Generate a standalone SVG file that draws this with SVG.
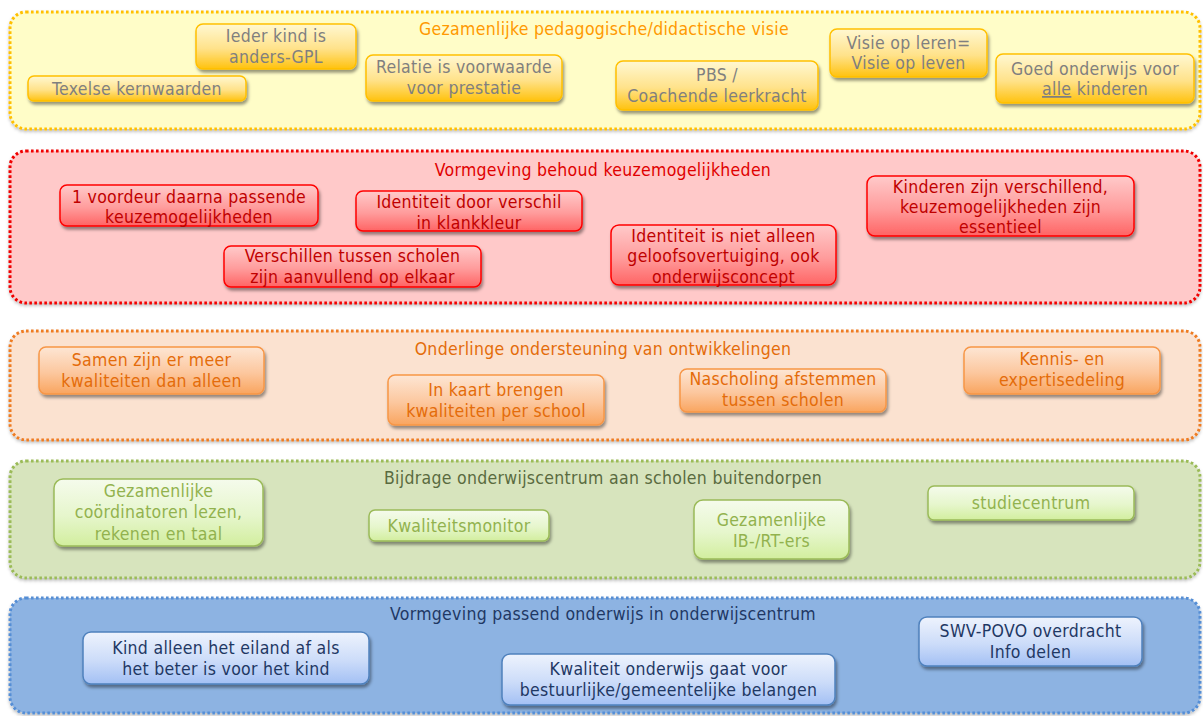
<svg xmlns="http://www.w3.org/2000/svg" width="1203" height="716" viewBox="0 0 1203 716">
<defs>
<linearGradient id="gY" x1="0" y1="0" x2="0" y2="1"><stop offset="0" stop-color="#FFF8D2"/><stop offset="0.55" stop-color="#FFE28A"/><stop offset="1" stop-color="#FFC20E"/></linearGradient>
<linearGradient id="gR" x1="0" y1="0" x2="0" y2="1"><stop offset="0" stop-color="#FFCACA"/><stop offset="0.55" stop-color="#FF9C9C"/><stop offset="1" stop-color="#FF6464"/></linearGradient>
<linearGradient id="gO" x1="0" y1="0" x2="0" y2="1"><stop offset="0" stop-color="#FDE6D4"/><stop offset="0.55" stop-color="#FCC79E"/><stop offset="1" stop-color="#F9A55F"/></linearGradient>
<linearGradient id="gG" x1="0" y1="0" x2="0" y2="1"><stop offset="0" stop-color="#F5FBEC"/><stop offset="0.55" stop-color="#E6F6CC"/><stop offset="1" stop-color="#D2EE9E"/></linearGradient>
<linearGradient id="gB" x1="0" y1="0" x2="0" y2="1"><stop offset="0" stop-color="#EEF3FD"/><stop offset="0.55" stop-color="#CCDCF9"/><stop offset="1" stop-color="#A3C0F4"/></linearGradient>
<filter id="sh" x="-10%" y="-20%" width="125%" height="150%"><feDropShadow dx="1.5" dy="3" stdDeviation="1.8" flood-color="#000" flood-opacity="0.4"/></filter>
<filter id="psh" x="-5%" y="-10%" width="110%" height="130%"><feDropShadow dx="0" dy="2" stdDeviation="1.5" flood-color="#000" flood-opacity="0.25"/></filter>
</defs>
<style>
text{font-family:'DejaVu Sans Condensed','DejaVu Sans',sans-serif;font-stretch:condensed;font-size:17.5px;letter-spacing:0.3px;text-anchor:middle}
.panel{stroke-width:3;stroke-dasharray:2.6 2.4;filter:url(#psh)}
.node rect{stroke-width:1.5;filter:url(#sh)}
.y rect{fill:url(#gY);stroke:#FFC000}
.y text{fill:#7F7F7F}
.r rect{fill:url(#gR);stroke:#FF0000}
.r text{fill:#C00000}
.o rect{fill:url(#gO);stroke:#F79646}
.o text{fill:#E46C0A}
.g rect{fill:url(#gG);stroke:#9BBB59}
.g text{fill:#92B24E}
.b rect{fill:url(#gB);stroke:#4F81BD}
.b text{fill:#1F3864}
</style>
<rect width="1203" height="716" fill="#FFFFFF"/>
<g id="panels">
<g id="panel-visie"><rect class="panel" x="10" y="12" width="1190" height="117" rx="16" fill="#FFFDC8" stroke="#FFC000"/><text x="604" y="35" fill="#FF9900">Gezamenlijke pedagogische/didactische visie</text></g>
<g id="panel-keuze"><rect class="panel" x="10" y="151" width="1190" height="152" rx="16" fill="#FFC9C9" stroke="#F00000"/><text x="603" y="176" fill="#E00000">Vormgeving behoud keuzemogelijkheden</text></g>
<g id="panel-ondersteuning"><rect class="panel" x="10" y="331" width="1190" height="109" rx="16" fill="#FBE2D0" stroke="#EE7B22"/><text x="603" y="355" fill="#E46C0A">Onderlinge ondersteuning van ontwikkelingen</text></g>
<g id="panel-bijdrage"><rect class="panel" x="10" y="461" width="1190" height="117" rx="16" fill="#D7E4BD" stroke="#9BBB59"/><text x="603" y="484" fill="#5A6B40">Bijdrage onderwijscentrum aan scholen buitendorpen</text></g>
<g id="panel-passend"><rect class="panel" x="10" y="598" width="1190" height="115" rx="16" fill="#8DB3E2" stroke="#558ED5"/><text x="603" y="620" fill="#1F3864">Vormgeving passend onderwijs in onderwijscentrum</text></g>
</g>
<g id="connectors"/>
<g id="nodes">
<g id="n-texelse" class="node y"><rect x="28" y="76" width="218" height="25" rx="6"/><text x="137" y="95">Texelse kernwaarden</text></g>
<g id="n-ieder" class="node y"><rect x="196" y="24" width="160" height="45" rx="7"/><text x="276" y="42">Ieder kind is</text><text x="276" y="63">anders-GPL</text></g>
<g id="n-relatie" class="node y"><rect x="366" y="55" width="196" height="46" rx="7"/><text x="464" y="73">Relatie is voorwaarde</text><text x="464" y="94">voor prestatie</text></g>
<g id="n-pbs" class="node y"><rect x="616" y="61" width="202" height="49" rx="7"/><text x="717" y="81">PBS /</text><text x="717" y="102">Coachende leerkracht</text></g>
<g id="n-visie" class="node y"><rect x="830" y="29" width="157" height="48" rx="7"/><text x="908.5" y="49">Visie op leren=</text><text x="908.5" y="69">Visie op leven</text></g>
<g id="n-goed" class="node y"><rect x="996" y="54" width="198" height="49" rx="7"/><text x="1095" y="75">Goed onderwijs voor</text><text x="1095" y="95"><tspan text-decoration="underline">alle</tspan> kinderen</text></g>

<g id="n-voordeur" class="node r"><rect x="60" y="185" width="258" height="41" rx="7"/><text x="189" y="203">1 voordeur daarna passende</text><text x="189" y="223">keuzemogelijkheden</text></g>
<g id="n-identiteit1" class="node r"><rect x="356" y="191" width="226" height="40" rx="7"/><text x="469" y="208">Identiteit door verschil</text><text x="469" y="229">in klankkleur</text></g>
<g id="n-verschillen" class="node r"><rect x="224" y="246" width="257" height="41" rx="7"/><text x="352.5" y="262">Verschillen tussen scholen</text><text x="352.5" y="283">zijn aanvullend op elkaar</text></g>
<g id="n-identiteit2" class="node r"><rect x="611" y="225" width="225" height="60" rx="8"/><text x="723.5" y="242">Identiteit is niet alleen</text><text x="723.5" y="262">geloofsovertuiging, ook</text><text x="723.5" y="283">onderwijsconcept</text></g>
<g id="n-kinderen" class="node r"><rect x="867" y="176" width="267" height="60" rx="8"/><text x="1000.5" y="193">Kinderen zijn verschillend,</text><text x="1000.5" y="213">keuzemogelijkheden zijn</text><text x="1000.5" y="233">essentieel</text></g>

<g id="n-samen" class="node o"><rect x="39" y="347" width="225" height="47" rx="7"/><text x="151.5" y="366">Samen zijn er meer</text><text x="151.5" y="387">kwaliteiten dan alleen</text></g>
<g id="n-kaart" class="node o"><rect x="388" y="375" width="216" height="50" rx="7"/><text x="496" y="396">In kaart brengen</text><text x="496" y="417">kwaliteiten per school</text></g>
<g id="n-nascholing" class="node o"><rect x="680" y="369" width="206" height="43" rx="7"/><text x="783" y="385">Nascholing afstemmen</text><text x="783" y="406">tussen scholen</text></g>
<g id="n-kennis" class="node o"><rect x="964" y="347" width="196" height="47" rx="7"/><text x="1062" y="365">Kennis- en</text><text x="1062" y="386">expertisedeling</text></g>

<g id="n-coordinatoren" class="node g"><rect x="54" y="479" width="209" height="67" rx="9"/><text x="158.5" y="497">Gezamenlijke</text><text x="158.5" y="518">coördinatoren lezen,</text><text x="158.5" y="540">rekenen en taal</text></g>
<g id="n-kwaliteitsmonitor" class="node g"><rect x="369" y="510" width="180" height="31" rx="6"/><text x="459" y="532">Kwaliteitsmonitor</text></g>
<g id="n-ibrt" class="node g"><rect x="694" y="500" width="155" height="59" rx="9"/><text x="771.5" y="526">Gezamenlijke</text><text x="771.5" y="547">IB-/RT-ers</text></g>
<g id="n-studiecentrum" class="node g"><rect x="928" y="486" width="206" height="34" rx="6"/><text x="1031" y="509">studiecentrum</text></g>

<g id="n-eiland" class="node b"><rect x="83" y="632" width="286" height="52" rx="8"/><text x="226" y="654">Kind alleen het eiland af als</text><text x="226" y="675">het beter is voor het kind</text></g>
<g id="n-kwaliteit" class="node b"><rect x="502" y="654" width="333" height="51" rx="8"/><text x="668.5" y="675">Kwaliteit onderwijs gaat voor</text><text x="668.5" y="696">bestuurlijke/gemeentelijke belangen</text></g>
<g id="n-swv" class="node b"><rect x="919" y="617" width="223" height="49" rx="8"/><text x="1030.5" y="637">SWV-POVO overdracht</text><text x="1030.5" y="658">Info delen</text></g>
</g>
</svg>
